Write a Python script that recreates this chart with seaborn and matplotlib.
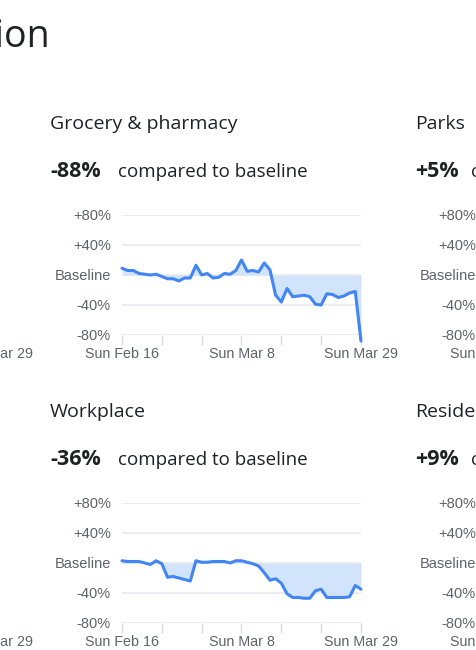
import numpy as np
import pandas as pd
import seaborn as sns
import matplotlib.pyplot as plt
# --------------------------------------------------------------------------------------------------
# Data (percent change vs baseline, Feb 16 - Mar 29)
dates = pd.date_range("2020-02-16", "2020-03-29", freq="D")

grocery = [9, 6, 6, 2, 1, 0, 1, -2, -5, -5, -8, -4, -4, 13, 0, 2, -4, -3, 2, 1, 6,
           20, 5, 6, 4, 16, 7, -27, -36, -18, -29, -28, -27, -29, -39, -40, -25, -26,
           -30, -28, -24, -22, -88]
workplace = [3, 2, 2, 2, 0, -2, 3, -1, -19, -18, -20, -22, -24, 3, 1, 1, 2, 2, 2, 0, 3,
             3, 1, -1, -4, -13, -23, -21, -27, -41, -46, -46, -47, -47, -37, -35, -46,
             -46, -46, -46, -45, -30, -35]

y_ticks = [-80, -40, 0, 40, 80]
y_labels = ["-80%", "-40%", "Baseline", "+40%", "+80%"]
label_dates = ["2020-02-16", "2020-03-08", "2020-03-29"]

# panels: (title, headline, series) ; right column is cut off by the crop
panels_mid = [("Grocery & pharmacy", "-88%", grocery), ("Workplace", "-36%", workplace)]
panels_right = [("Parks", "+5%"), ("Residential", "+9%")]
# --------------------------------------------------------------------------------------------------
sns.set_style("white")
plt.rcParams["font.family"] = ["Liberation Sans", "DejaVu Sans"]

W, H = 476, 650
fig = plt.figure(figsize=(W / 100, H / 100), dpi=100)

BLUE = "#4285f4"
FILL = "#d2e3fc"
GRID = "#e8eaed"
TICK = "#5f6368"
DARK = "#202124"
TITLE_FONT = "Open Sans"

def px_axes(x0, y_top, w, h):
    return fig.add_axes([x0 / W, 1 - (y_top + h) / H, w / W, h / H])

def style_axes(ax):
    ax.set_xlim(dates[0], dates[-1])
    ax.set_ylim(-80, 80)
    ax.set_yticks(y_ticks)
    ax.set_yticklabels(y_labels)
    week_ticks = pd.date_range(dates[0], dates[-1], freq="7D")
    ax.set_xticks(week_ticks)
    ax.set_xticklabels([d.strftime("Sun %b %-d") if d.strftime("%Y-%m-%d") in label_dates else ""
                        for d in week_ticks])
    for v in y_ticks:
        ax.axhline(v, color=GRID, lw=1.2, zorder=0)
    for s in ax.spines.values():
        s.set_visible(False)
    ax.tick_params(axis="y", length=0, pad=8, labelsize=10.5, labelcolor=TICK)
    ax.tick_params(axis="x", length=7, width=1, color="#dadce0", pad=2,
                   labelsize=10.3, labelcolor=TICK, bottom=True)
    ax.set_xlabel("")
    ax.set_ylabel("")
    ax.grid(False)

def headline(x, y, title, value, gap):
    fig.text(x / W, 1 - y / H, title, fontsize=14, color=DARK, family=TITLE_FONT, va="baseline")
    t = fig.text(x / W, 1 - (y + 48) / H, value, fontsize=15.5, color=DARK, family=TITLE_FONT,
                 fontweight="bold", va="baseline")
    fig.canvas.draw()
    bb = t.get_window_extent()
    fig.text((bb.x1 + gap) / W, 1 - (y + 48) / H, "compared to baseline", fontsize=13.5,
             color=DARK, family=TITLE_FONT, va="baseline")

# page heading, cut by the crop
fig.text(50 / W, 1 - 47 / H, "Region", fontsize=27, color=DARK, family=TITLE_FONT,
         ha="right", va="baseline")

col_step = 365
row_step = 288
for row in range(2):
    top = 215 + row * row_step
    # left column (only the last date label is visible)
    ax_l = px_axes(122 - col_step, top, 239, 120)
    style_axes(ax_l)
    # middle column
    title, value, series = panels_mid[row]
    ax = px_axes(122, top, 239, 120)
    df = pd.DataFrame({"date": dates, "change": series})
    ax.fill_between(df["date"], 0, df["change"], color=FILL, lw=0, zorder=1)
    sns.lineplot(data=df, x="date", y="change", ax=ax, color=BLUE, lw=2.2, zorder=3,
                 clip_on=False)
    style_axes(ax)
    headline(50, 129 + row * row_step, title, value, 17)
    # right column (cut by the crop)
    ax_r = px_axes(122 + col_step, top, 239, 120)
    style_axes(ax_r)
    headline(50 + col_step, 129 + row * row_step, *panels_right[row], 12)

fig.savefig("out.png", dpi=100)
